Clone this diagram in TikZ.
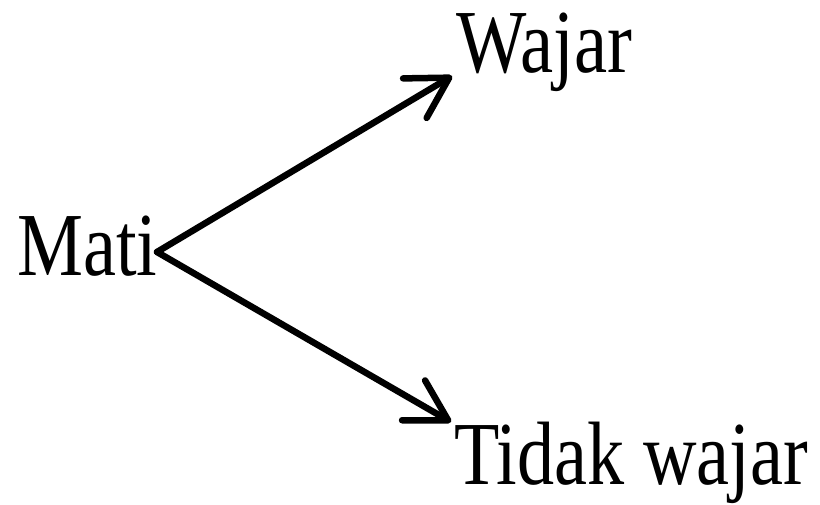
\documentclass[tikz,border=0pt]{standalone}
\usepackage{fontspec}
\setmainfont{Liberation Serif}
\usetikzlibrary{arrows.meta,calc}
\begin{document}
\begin{tikzpicture}[x=1pt,y=1pt,
  lbl/.style={inner sep=0pt, anchor=base west, font=\fontsize{72}{80}\selectfont},
  conn/.style={line width=6.5pt, line cap=round, line join=round,
    -{Straight Barb[length=40pt,width=46pt,line cap=round,line join=round]}}]
\useasboundingbox (0,0) rectangle (820,505);
\node[lbl] (mati) at (17,229) {\scalebox{1.03}[1.25]{Mati}};
\node[lbl] (wajar) at (456,432) {\scalebox{1.035}[1.25]{Wajar}};
\node[lbl] (tidak) at (454,20) {\scalebox{1.03}[1.25]{Tidak wajar}};
\coordinate (src) at (157,253);
\coordinate (t1) at (452,429);
\coordinate (t2) at (451,83);
\draw[conn] (src) -- (t1);
\draw[conn] (src) -- (t2);
\end{tikzpicture}
\end{document}
